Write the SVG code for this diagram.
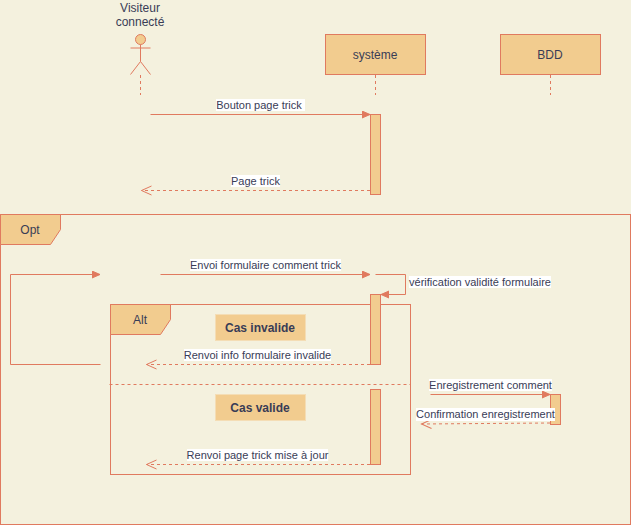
<svg xmlns="http://www.w3.org/2000/svg" width="631" height="525" viewBox="0 0 631 525">
<style>
text{font-family:"Liberation Sans",Arial,sans-serif;font-size:11px;fill:#393C56;text-anchor:middle}
.big{font-size:12px}
.b{font-weight:bold;font-size:12px}
.s{fill:#F2CC8F;stroke:#E07A5F;stroke-width:1}
.f{fill:none;stroke:#E07A5F;stroke-width:1}
.d{fill:none;stroke:#E07A5F;stroke-width:1;stroke-dasharray:3 3}
.lb{fill:#FFFFFF}
</style>
<defs>
<marker id="solid" markerUnits="userSpaceOnUse" markerWidth="10" markerHeight="10" refX="8" refY="4" orient="auto"><path d="M0 0.5L8 4L0 7.500z" fill="#E07A5F" stroke="#E07A5F"/></marker>
<marker id="open" markerUnits="userSpaceOnUse" markerWidth="12" markerHeight="12" refX="10" refY="5" orient="auto"><path d="M0 0.500L10 5L0 9.500" fill="none" stroke="#E07A5F"/></marker>
</defs>
<rect width="631" height="525" fill="#F4F1DE"/>
<g id="frame-opt">
<rect class="f" x="0.500" y="214.500" width="630" height="310"/>
<path class="s" d="M0.500 214.500H60.500V229.500L50.500 244.500H0.500z"/>
<text x="30" y="234" class="big">Opt</text>
</g>
<g id="frame-alt">
<rect class="f" x="110.500" y="304.500" width="300" height="170"/>
<path class="s" d="M110.500 304.500H170.500V319.500L160.500 334.500H110.500z"/>
<text x="140" y="324" class="big">Alt</text>
<path class="d" d="M109.500 384.500H410.500"/>
</g>
<g id="actor-visiteur">
<text x="140" y="12" class="big">Visiteur</text>
<text x="140" y="26" class="big">connecté</text>
<circle class="s" cx="140.500" cy="39.500" r="5"/>
<path class="f" d="M140.500 44.500V61.500M130.500 48H150.500M130.500 74.500L140.500 61.500L150.500 74.500"/>
<path class="d" d="M140.500 75V95"/>
</g>
<g id="node-systeme">
<rect class="s" x="325.500" y="34.500" width="100" height="40"/>
<text x="375" y="59" class="big">système</text>
<path class="d" d="M375.500 75V95"/>
</g>
<g id="node-bdd">
<rect class="s" x="500.500" y="34.500" width="100" height="40"/>
<text x="550" y="59" class="big">BDD</text>
<path class="d" d="M550.500 75V95"/>
</g>
<g id="activations">
<rect class="s" x="370.500" y="114.500" width="10" height="80"/>
<rect class="s" x="370.500" y="294.500" width="10" height="70"/>
<rect class="s" x="370.500" y="389.500" width="10" height="75"/>
<rect class="s" x="550.500" y="394.500" width="10" height="30"/>
</g>
<g id="cas-invalide">
<rect x="215.500" y="314.500" width="90" height="26" fill="#F2CC8F" stroke="#F4DDB5"/>
<text x="260" y="332" class="b">Cas invalide</text>
</g>
<g id="cas-valide">
<rect x="215.500" y="394.500" width="90" height="26" fill="#F2CC8F" stroke="#F4DDB5"/>
<text x="260" y="412" class="b">Cas valide</text>
</g>
<g id="connectors">
<path class="f" marker-end="url(#solid)" d="M150.500 114.500H370"/>
<path class="d" marker-end="url(#open)" d="M370 190.500H141.500"/>
<path class="f" marker-end="url(#solid)" d="M160.500 274.500H370"/>
<path class="f" marker-end="url(#solid)" d="M375.500 274.500H405.500V294.500H381"/>
<path class="f" marker-end="url(#solid)" d="M100.500 364.500H10.500V274.500H100"/>
<path class="d" marker-end="url(#open)" d="M370 364.500H146.500"/>
<path class="d" marker-end="url(#open)" d="M370 464.500H146.500"/>
<path class="f" marker-end="url(#solid)" d="M430.500 394.500H550"/>
<path class="d" marker-end="url(#open)" d="M550 423L421.500 424"/>
</g>
<g id="labels">
<rect class="lb" x="216" y="99" width="89" height="12"/><text x="259" y="109">Bouton page trick</text>
<rect class="lb" x="231" y="175" width="49" height="12"/><text x="255.500" y="185">Page trick</text>
<rect class="lb" x="190" y="259" width="151" height="12"/><text x="265.500" y="269">Envoi formulaire comment trick</text>
<rect class="lb" x="409" y="276" width="142" height="12"/><text x="480" y="286">vérification validité formulaire</text>
<rect class="lb" x="184" y="349" width="147" height="12"/><text x="257.500" y="359">Renvoi info formulaire invalide</text>
<rect class="lb" x="429" y="379" width="123" height="12"/><text x="490.500" y="389">Enregistrement comment</text>
<rect class="lb" x="416" y="408" width="139" height="13"/><text x="485.500" y="418">Confirmation enregistrement</text>
<rect class="lb" x="187" y="449" width="141" height="12"/><text x="257.500" y="459">Renvoi page trick mise à jour</text>
</g>
</svg>
